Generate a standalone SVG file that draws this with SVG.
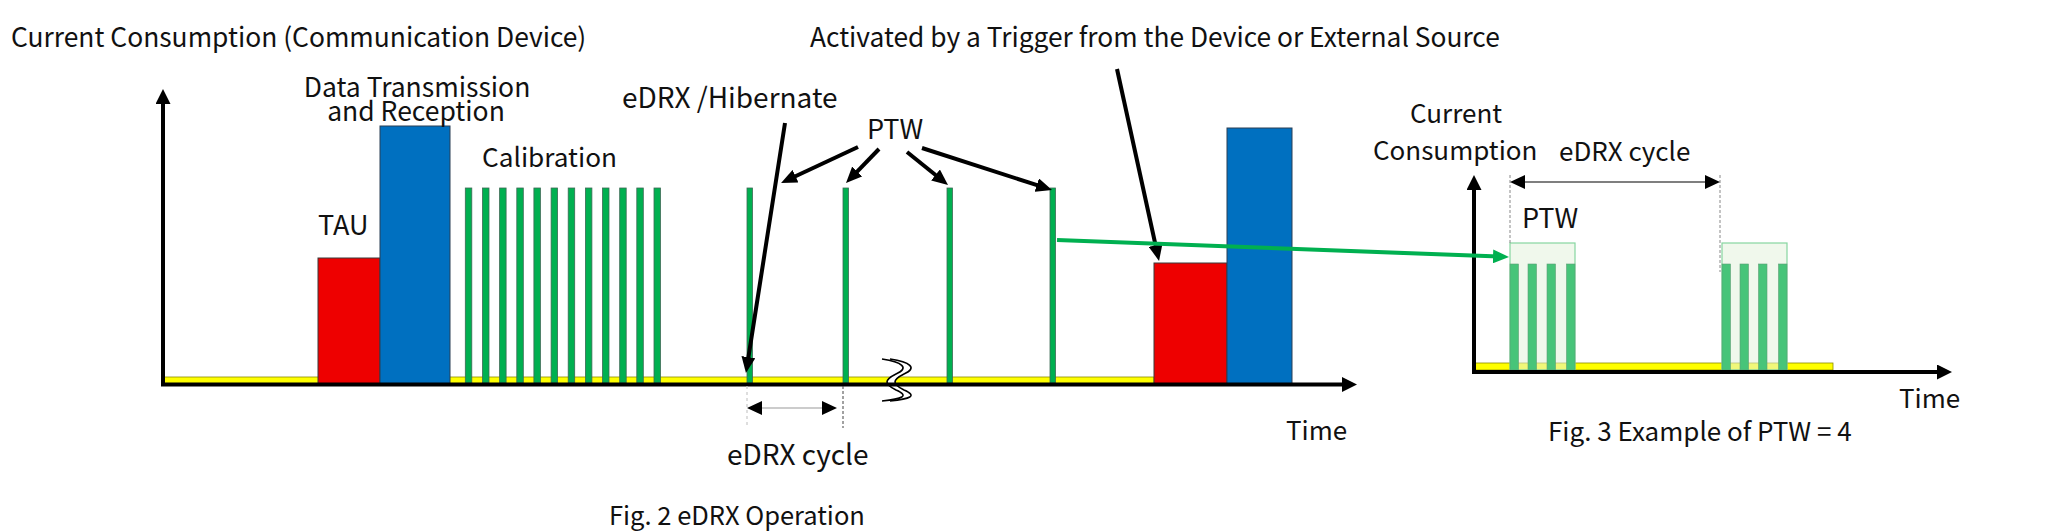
<svg xmlns="http://www.w3.org/2000/svg" width="2048" height="531" viewBox="0 0 2048 531">
<defs>
<style>
text{font-family:"Noto Sans CJK JP","Noto Sans",sans-serif;fill:#111;}
.t27{font-size:27px;}
.t26{font-size:26px;}
.t23{font-size:23px;}
.axis{stroke:#000;stroke-width:4;fill:none;}
.call{stroke:#000;stroke-width:4;fill:none;}
.cal{fill:#00B050;stroke:#3d6a55;stroke-width:0.8;}
.yel{fill:#FFFF00;stroke:#8c8c00;stroke-width:0.8;}
.red{fill:#EE0000;stroke:#3a3a3a;stroke-width:1;}
.blue{fill:#0070C0;stroke:#2a3f55;stroke-width:1;}
.box{fill:#E3F2DC;fill-opacity:0.55;stroke:#86D6A0;stroke-width:1.2;}
.pbar{fill:#47C479;stroke:#5e9e76;stroke-width:0.6;}
.dim{stroke-width:1.2;fill:none;}
</style>
<marker id="ah" viewBox="0 0 16 14" refX="6" refY="7" markerWidth="16" markerHeight="14" markerUnits="userSpaceOnUse" orient="auto"><path d="M0,0 L16,7 L0,14 z" fill="#000"/></marker>
<marker id="ahg" viewBox="0 0 16 14" refX="6" refY="7" markerWidth="16" markerHeight="14" markerUnits="userSpaceOnUse" orient="auto"><path d="M0,0 L16,7 L0,14 z" fill="#00B050"/></marker>
<marker id="ax" viewBox="0 0 15 15" refX="5" refY="7.5" markerWidth="15" markerHeight="15" markerUnits="userSpaceOnUse" orient="auto"><path d="M0,0 L15,7.5 L0,15 z" fill="#000"/></marker>
<marker id="dh" viewBox="0 0 15 14" refX="0" refY="7" markerWidth="15" markerHeight="14" markerUnits="userSpaceOnUse" orient="auto-start-reverse"><path d="M0,0 L15,7 L0,14 z" fill="#000"/></marker>
</defs>

<!-- Fig. 2 -->
<g id="fig2-baseline">
<rect class="yel" x="163" y="377" width="991" height="6.5"/>
</g>
<g id="calibration">
<rect class="cal" x="465.3" y="188" width="6.5" height="195"/>
<rect class="cal" x="482.5" y="188" width="6.5" height="195"/>
<rect class="cal" x="499.6" y="188" width="6.5" height="195"/>
<rect class="cal" x="516.8" y="188" width="6.5" height="195"/>
<rect class="cal" x="533.9" y="188" width="6.5" height="195"/>
<rect class="cal" x="551.1" y="188" width="6.5" height="195"/>
<rect class="cal" x="568.2" y="188" width="6.5" height="195"/>
<rect class="cal" x="585.4" y="188" width="6.5" height="195"/>
<rect class="cal" x="602.5" y="188" width="6.5" height="195"/>
<rect class="cal" x="619.7" y="188" width="6.5" height="195"/>
<rect class="cal" x="636.8" y="188" width="6.5" height="195"/>
<rect class="cal" x="654.0" y="188" width="6.5" height="195"/>
<text x="482" y="167" font-size="26.2">Calibration</text>
</g>
<g id="ptw-bars">
<rect class="cal" x="747" y="188" width="5.5" height="195"/>
<rect class="cal" x="843" y="188" width="5.5" height="195"/>
<rect class="cal" x="947" y="188" width="5.5" height="195"/>
<rect class="cal" x="1050" y="188" width="5.5" height="195"/>
</g>
<g id="tau">
<rect class="red" x="318" y="258" width="62" height="126"/>
<text class="t27" x="318" y="235">TAU</text>
</g>
<g id="data-tx">
<rect class="blue" x="380" y="126" width="70" height="258"/>
<text x="417" y="97" text-anchor="middle" font-size="26.5">Data Transmission</text>
<text x="416" y="121" text-anchor="middle" font-size="26.5">and Reception</text>
</g>
<g id="tau2">
<rect class="red" x="1154" y="263" width="73" height="121"/>
</g>
<g id="data-tx2">
<rect class="blue" x="1227" y="128" width="65" height="256"/>
</g>
<g id="break">
<path d="M882,359 C902,362 910,368 896,374 C884,380 884,384 896,390 C910,396 902,399 882,401 L890,401 C910,399 918,396 904,390 C892,384 892,380 904,374 C918,368 910,362 890,359 Z" fill="#fff" stroke="none"/>
<path d="M882,359 C902,362 910,368 896,374 C884,380 884,384 896,390 C910,396 902,399 882,401" fill="none" stroke="#000" stroke-width="1.6"/>
<path d="M890,359 C910,362 918,368 904,374 C892,380 892,384 904,390 C918,396 910,399 890,401" fill="none" stroke="#000" stroke-width="1.6"/>
</g>
<g id="fig2-axes">
<line class="axis" x1="163" y1="386" x2="163" y2="99" marker-end="url(#ax)"/>
<line class="axis" x1="161" y1="384.5" x2="1347" y2="384.5" marker-end="url(#ax)"/>
<text class="t26" x="1286" y="440">Time</text>
</g>
<g id="edrx-cycle-dim">
<line x1="747" y1="386" x2="747" y2="425" stroke="#c8c8c8" stroke-width="1.2" stroke-dasharray="3,3"/>
<line x1="843" y1="386" x2="843" y2="428" stroke="#444" stroke-width="1" stroke-dasharray="3,2"/>
<line class="dim" stroke="#999" x1="762" y1="408" x2="822" y2="408" marker-start="url(#dh)" marker-end="url(#dh)"/>
<text x="727" y="465" font-size="28">eDRX cycle</text>
</g>
<g id="labels">
<text x="11" y="47" font-size="26.4">Current Consumption (Communication Device)</text>
<text x="810" y="47" font-size="26.35">Activated by a Trigger from the Device or External Source</text>
<text x="622" y="108" font-size="28">eDRX /Hibernate</text>
<text class="t27" x="867" y="139">PTW</text>
<text x="609" y="525" font-size="25.5">Fig. 2 eDRX Operation</text>
</g>

<!-- Fig. 3 -->
<g id="fig3-baseline">
<rect class="yel" x="1474" y="363" width="359" height="7"/>
</g>
<g id="ptw-window-1">
<rect class="box" x="1510" y="243" width="65" height="127"/>
<rect class="pbar" x="1510" y="264" width="8.5" height="106"/>
<rect class="pbar" x="1528" y="264" width="8.5" height="106"/>
<rect class="pbar" x="1547" y="264" width="8.5" height="106"/>
<rect class="pbar" x="1566.5" y="264" width="8.5" height="106"/>
<text class="t27" x="1522" y="228">PTW</text>
</g>
<g id="ptw-window-2">
<rect class="box" x="1722" y="243" width="65" height="127"/>
<rect class="pbar" x="1722" y="264" width="8.5" height="106"/>
<rect class="pbar" x="1740" y="264" width="8.5" height="106"/>
<rect class="pbar" x="1758.5" y="264" width="8.5" height="106"/>
<rect class="pbar" x="1778.5" y="264" width="8.5" height="106"/>
</g>
<g id="fig3-axes">
<line class="axis" x1="1474" y1="374" x2="1474" y2="185" marker-end="url(#ax)"/>
<line class="axis" x1="1472" y1="372" x2="1942" y2="372" marker-end="url(#ax)"/>
<text class="t26" x="1410" y="123">Current</text>
<text class="t26" x="1373" y="160">Consumption</text>
<text class="t26" x="1899" y="408">Time</text>
<text x="1548" y="441" font-size="26">Fig. 3 Example of PTW = 4</text>
</g>
<g id="fig3-edrx-dim">
<line x1="1510" y1="175" x2="1510" y2="243" stroke="#888" stroke-width="1" stroke-dasharray="3,2"/>
<line x1="1720" y1="175" x2="1720" y2="272" stroke="#888" stroke-width="1" stroke-dasharray="3,2"/>
<line class="dim" stroke="#000" x1="1525" y1="182" x2="1705" y2="182" marker-start="url(#dh)" marker-end="url(#dh)"/>
<text class="t26" x="1559" y="161">eDRX cycle</text>
</g>

<g id="connectors">
<line class="call" x1="785" y1="123" x2="747.5" y2="363.1" marker-end="url(#ah)"/>
<line class="call" x1="858" y1="147" x2="790.1" y2="178.8" marker-end="url(#ah)"/>
<line class="call" x1="879" y1="149" x2="853.0" y2="175.8" marker-end="url(#ah)"/>
<line class="call" x1="907" y1="152" x2="940.2" y2="178.7" marker-end="url(#ah)"/>
<line class="call" x1="922" y1="148" x2="1042.5" y2="186.9" marker-end="url(#ah)"/>
<line class="call" x1="1117" y1="69" x2="1156.9" y2="251.2" marker-end="url(#ah)"/>
<line stroke="#00B050" stroke-width="4" x1="1057" y1="240" x2="1499" y2="256.6" marker-end="url(#ahg)"/>
</g>
</svg>
